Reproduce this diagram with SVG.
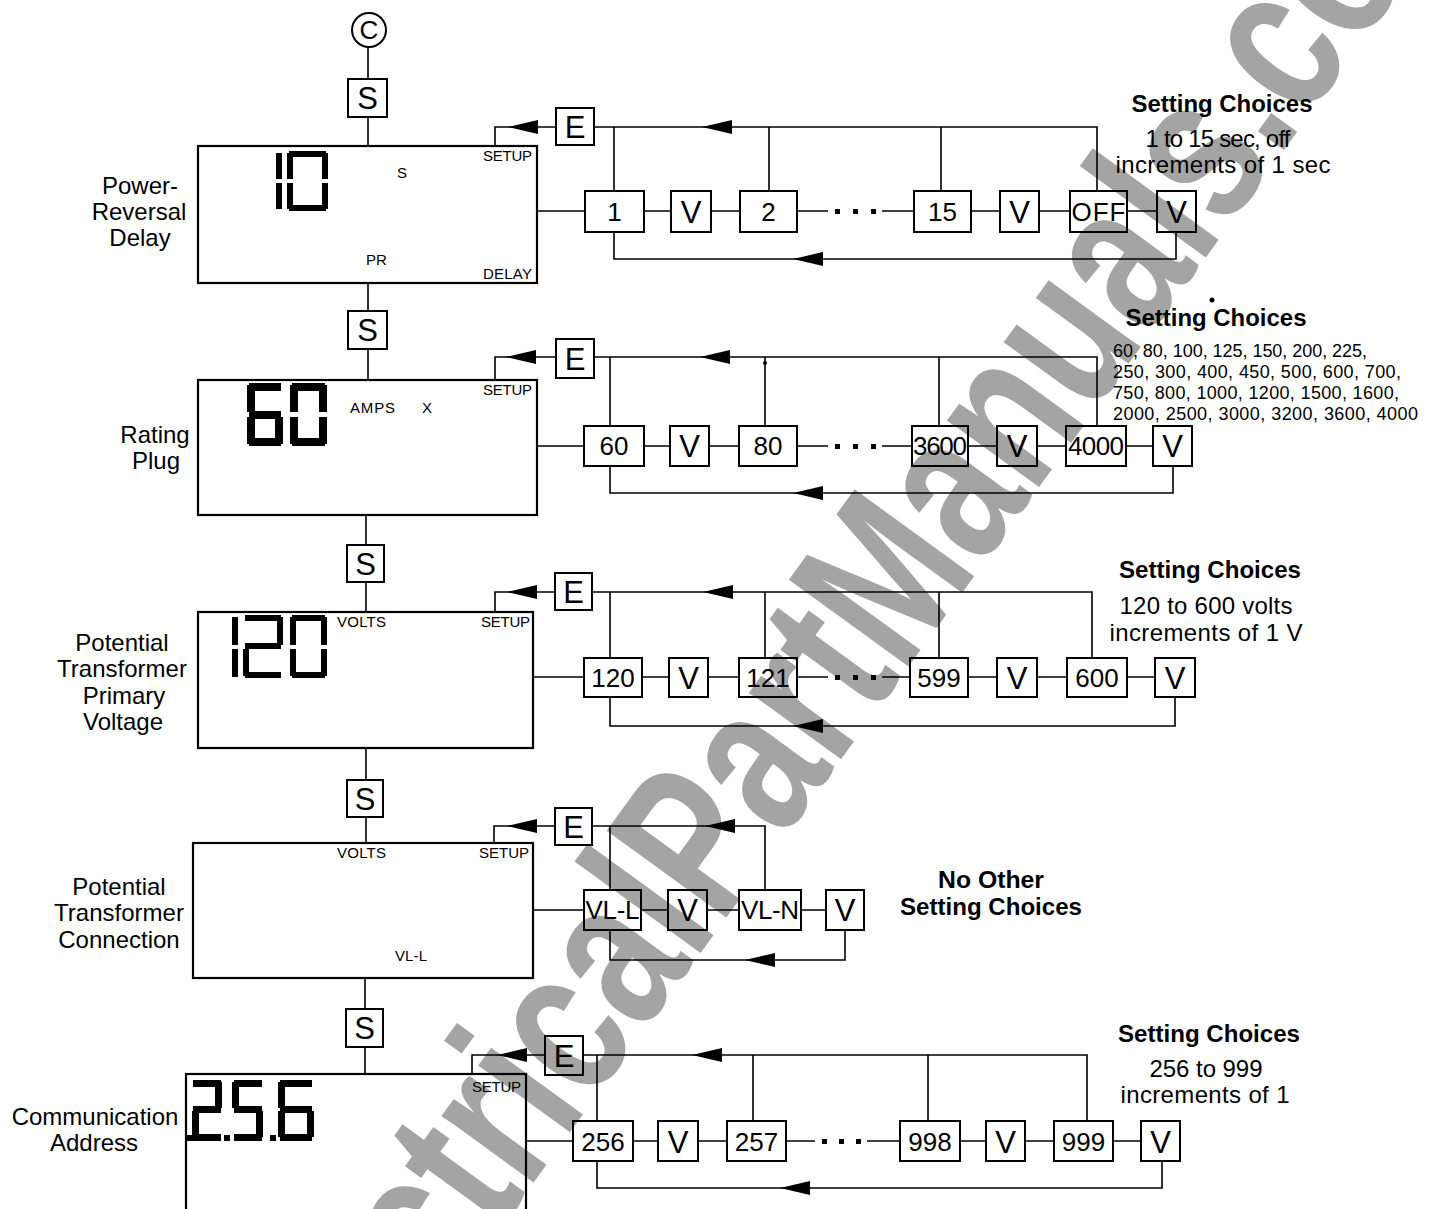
<svg xmlns="http://www.w3.org/2000/svg" xmlns:xlink="http://www.w3.org/1999/xlink" width="1436" height="1209" viewBox="0 0 1436 1209">
<style>
.ln{stroke:#000;stroke-width:1.6;fill:none}
.bx{stroke:#000;stroke-width:2;fill:none}
.dp{stroke:#000;stroke-width:2.2;fill:none}
.t{font-family:"Liberation Sans",Arial,sans-serif;fill:#000}
.bt{font-size:26px;text-anchor:middle}
.kt{font-size:31px;text-anchor:middle}
.lb{font-size:24px;text-anchor:middle}
.lc{font-size:15px}
.hd{font-size:23px;font-weight:bold;text-anchor:middle}
.sb{font-size:24px;text-anchor:middle}
.vl{font-size:18px}
.sg{fill:#000}
.wm{font-family:"Liberation Sans",Arial,sans-serif;font-weight:bold;font-size:215px;fill:#a4a4a4}
</style>
<defs>
<path id="ah" d="M0,0 L30,-7 L30,7 Z" fill="#000"/>
</defs>
<rect width="1436" height="1209" fill="#fff"/>
<g id="watermark">
<text class="wm" transform="translate(303,1500) rotate(-54)" textLength="2030" lengthAdjust="spacingAndGlyphs">ElectricalPartManuals.com</text>
</g>

<g id="connectors">
<path class="ln" d="M368,47 V79 M368,117 V146 M368,283 V311 M368,349 V380 M366,515 V545 M366,582 V612 M366,748 V780 M366,817 V843 M365,978 V1009 M365,1047 V1074"/>
<path class="ln" d="M556,127 H495 V146 M594,127 H1097 V191 M614,127 V191 M769,127 V191 M941,127 V191"/>
<path class="ln" d="M537,211 H585 M644,211 H671 M711,211 H740 M797,211 H828 M882,211 H914 M971,211 H1000 M1039,211 H1070 M1127,211 H1157"/>
<path class="ln" d="M614,232 V259 H1176 V232"/>
<use xlink:href="#ah" x="508" y="127"/><use xlink:href="#ah" x="702" y="127"/><use xlink:href="#ah" x="793" y="259"/>
<rect x="835" y="209" width="5" height="5"/><rect x="853" y="209" width="5" height="5"/><rect x="871" y="209" width="5" height="5"/>
<path class="ln" d="M556,357 H495 V380 M594,357 H1097 V426 M610,357 V426 M765,357 V426 M939,357 V426"/>
<circle cx="765" cy="363" r="2"/>
<path class="ln" d="M537,446 H584 M644,446 H670 M709,446 H739 M797,446 H828 M882,446 H912 M968,446 H997 M1037,446 H1066 M1126,446 H1153"/>
<path class="ln" d="M610,466 V493 H1173 V466"/>
<use xlink:href="#ah" x="506" y="357"/><use xlink:href="#ah" x="700" y="357"/><use xlink:href="#ah" x="793" y="493"/>
<rect x="835" y="444" width="5" height="5"/><rect x="853" y="444" width="5" height="5"/><rect x="871" y="444" width="5" height="5"/>
<path class="ln" d="M555,592 H495 V612 M592,592 H1092 V658 M610,592 V658 M765,592 V658 M939,592 V658"/>
<path class="ln" d="M533,677 H584 M642,677 H669 M708,677 H739 M797,677 H828 M882,677 H910 M968,677 H997 M1037,677 H1067 M1127,677 H1155"/>
<path class="ln" d="M610,697 V726 H1175 V697"/>
<use xlink:href="#ah" x="507" y="592"/><use xlink:href="#ah" x="703" y="592"/><use xlink:href="#ah" x="793" y="726"/>
<rect x="835" y="675" width="5" height="5"/><rect x="853" y="675" width="5" height="5"/><rect x="871" y="675" width="5" height="5"/>
<path class="ln" d="M555,826 H494 V843 M592,826 H765 V890 M610,826 V890"/>
<path class="ln" d="M533,910 H584 M641,910 H668 M707,910 H739 M801,910 H826"/>
<path class="ln" d="M610,930 V960 H845 V930"/>
<use xlink:href="#ah" x="507" y="826"/><use xlink:href="#ah" x="705" y="826"/><use xlink:href="#ah" x="745" y="960"/>
<path class="ln" d="M545,1055 H472 V1074 M583,1055 H1087 V1121 M597,1055 V1121 M753,1055 V1121 M928,1055 V1121"/>
<path class="ln" d="M526,1141 H573 M633,1141 H658 M698,1141 H727 M786,1141 H815 M867,1141 H900 M960,1141 H986 M1025,1141 H1054 M1113,1141 H1141"/>
<path class="ln" d="M597,1161 V1188 H1162 V1161"/>
<use xlink:href="#ah" x="497" y="1055"/><use xlink:href="#ah" x="692" y="1055"/><use xlink:href="#ah" x="780" y="1188"/>
<rect x="822" y="1139" width="5" height="5"/><rect x="839" y="1139" width="5" height="5"/><rect x="856" y="1139" width="5" height="5"/>
</g>

<g id="node-c"><circle class="bx" cx="369" cy="30" r="17"/><text class="t bt" x="369" y="39">C</text></g>
<g id="node-s1"><rect class="bx" x="348" y="79" width="39" height="38"/><text class="t kt" x="367.5" y="109">S</text></g>

<g id="display-1">
<rect class="dp" x="198" y="146" width="339" height="137"/>
<g class="sg"><title>10</title>
<rect x="276" y="153" width="6" height="26"/><rect x="276" y="183" width="6" height="26"/>
<rect x="289" y="151" width="37" height="6"/><rect x="287" y="153" width="6" height="26"/><rect x="322" y="153" width="6" height="26"/>
<rect x="287" y="183" width="6" height="26"/><rect x="322" y="183" width="6" height="26"/><rect x="289" y="205" width="37" height="6"/>
</g>
<text class="t lc" x="397" y="178">S</text>
<text class="t lc" x="366" y="265">PR</text>
<text class="t lc" x="483" y="161" textLength="49">SETUP</text>
<text class="t lc" x="483" y="279" textLength="49">DELAY</text>
</g>
<g id="label-1"><text class="t lb" x="140" y="194">Power-</text><text class="t lb" x="139" y="220">Reversal</text><text class="t lb" x="140" y="246">Delay</text></g>
<g id="e-1"><rect class="bx" x="556" y="108" width="38" height="37"/><text class="t kt" x="575" y="138">E</text></g>
<g id="opt-1-1"><rect class="bx" x="585" y="191" width="59" height="41"/><text class="t bt" x="614.5" y="221">1</text></g>
<g id="v-1-1"><rect class="bx" x="671" y="191" width="40" height="41"/><text class="t kt" x="691" y="223">V</text></g>
<g id="opt-1-2"><rect class="bx" x="740" y="191" width="57" height="41"/><text class="t bt" x="768.5" y="221">2</text></g>
<g id="opt-1-15"><rect class="bx" x="914" y="191" width="57" height="41"/><text class="t bt" x="942.5" y="221">15</text></g>
<g id="v-1-2"><rect class="bx" x="1000" y="191" width="39" height="41"/><text class="t kt" x="1019.5" y="223">V</text></g>
<g id="opt-1-off"><rect class="bx" x="1070" y="191" width="57" height="41"/><text class="t bt" x="1098.5" y="221" textLength="54">OFF</text></g>
<g id="v-1-3"><rect class="bx" x="1157" y="191" width="39" height="41"/><text class="t kt" x="1176.5" y="223">V</text></g>
<g id="choices-1">
<text class="t hd" x="1222" y="112" textLength="181" lengthAdjust="spacingAndGlyphs">Setting Choices</text>
<text class="t sb" x="1218" y="147" textLength="145">1 to 15 sec, off</text>
<text class="t sb" x="1223" y="173" textLength="215">increments of 1 sec</text>
</g>

<g id="node-s2"><rect class="bx" x="348" y="311" width="39" height="38"/><text class="t kt" x="367.5" y="341">S</text></g>
<g id="display-2">
<rect class="dp" x="198" y="380" width="339" height="135"/>
<g class="sg"><title>60</title>
<rect x="249" y="383" width="32" height="8"/><rect x="247" y="385" width="8" height="27"/>
<rect x="249" y="411" width="32" height="8"/><rect x="247" y="417" width="8" height="27"/>
<rect x="275" y="417" width="8" height="27"/><rect x="249" y="438" width="32" height="8"/>
<rect x="292" y="383" width="33" height="8"/><rect x="290" y="385" width="8" height="27"/><rect x="319" y="385" width="8" height="27"/>
<rect x="290" y="417" width="8" height="27"/><rect x="319" y="417" width="8" height="27"/><rect x="292" y="438" width="33" height="8"/>
</g>
<text class="t lc" x="350" y="413" textLength="45">AMPS</text>
<text class="t lc" x="422" y="413">X</text>
<text class="t lc" x="483" y="395" textLength="49">SETUP</text>
</g>
<g id="label-2"><text class="t lb" x="155" y="443">Rating</text><text class="t lb" x="156" y="469">Plug</text></g>
<g id="e-2"><rect class="bx" x="556" y="339" width="38" height="39"/><text class="t kt" x="575" y="370">E</text></g>
<g id="opt-2-60"><rect class="bx" x="584" y="426" width="60" height="40"/><text class="t bt" x="614" y="455">60</text></g>
<g id="v-2-1"><rect class="bx" x="670" y="426" width="39" height="40"/><text class="t kt" x="689.5" y="457">V</text></g>
<g id="opt-2-80"><rect class="bx" x="739" y="426" width="58" height="40"/><text class="t bt" x="768" y="455">80</text></g>
<g id="opt-2-3600"><rect class="bx" x="912" y="426" width="56" height="40"/><text class="t bt" x="940" y="455" textLength="54">3600</text></g>
<g id="v-2-2"><rect class="bx" x="997" y="426" width="40" height="40"/><text class="t kt" x="1017" y="457">V</text></g>
<g id="opt-2-4000"><rect class="bx" x="1066" y="426" width="60" height="40"/><text class="t bt" x="1096" y="455" textLength="56">4000</text></g>
<g id="v-2-3"><rect class="bx" x="1153" y="426" width="39" height="40"/><text class="t kt" x="1172.5" y="457">V</text></g>
<g id="choices-2">
<text class="t hd" x="1216" y="326" textLength="181" lengthAdjust="spacingAndGlyphs">Setting Choices</text>
<circle cx="1212" cy="300" r="2.5"/>
<text class="t vl" x="1113" y="357" textLength="254">60, 80, 100, 125, 150, 200, 225,</text>
<text class="t vl" x="1113" y="378" textLength="288">250, 300, 400, 450, 500, 600, 700,</text>
<text class="t vl" x="1113" y="399" textLength="286">750, 800, 1000, 1200, 1500, 1600,</text>
<text class="t vl" x="1113" y="420" textLength="305">2000, 2500, 3000, 3200, 3600, 4000</text>
</g>

<g id="node-s3"><rect class="bx" x="347" y="545" width="37" height="37"/><text class="t kt" x="365.5" y="575">S</text></g>
<g id="display-3">
<rect class="dp" x="198" y="612" width="335" height="136"/>
<g class="sg"><title>120</title>
<rect x="232" y="617" width="6" height="28"/><rect x="232" y="649" width="6" height="28"/>
<rect x="245" y="615" width="36" height="6"/><rect x="277" y="617" width="6" height="28"/>
<rect x="245" y="643" width="36" height="6"/><rect x="243" y="649" width="6" height="27"/><rect x="245" y="672" width="36" height="6"/>
<rect x="292" y="615" width="33" height="6"/><rect x="290" y="617" width="6" height="28"/><rect x="321" y="617" width="6" height="28"/>
<rect x="290" y="649" width="6" height="27"/><rect x="321" y="649" width="6" height="27"/><rect x="292" y="672" width="33" height="6"/>
</g>
<text class="t lc" x="337" y="627" textLength="49">VOLTS</text>
<text class="t lc" x="481" y="627" textLength="49">SETUP</text>
</g>
<g id="label-3"><text class="t lb" x="122" y="651">Potential</text><text class="t lb" x="122" y="677">Transformer</text><text class="t lb" x="124" y="704">Primary</text><text class="t lb" x="123" y="730">Voltage</text></g>
<g id="e-3"><rect class="bx" x="555" y="573" width="37" height="37"/><text class="t kt" x="573.5" y="603">E</text></g>
<g id="opt-3-120"><rect class="bx" x="584" y="658" width="58" height="39"/><text class="t bt" x="613" y="687">120</text></g>
<g id="v-3-1"><rect class="bx" x="669" y="658" width="39" height="39"/><text class="t kt" x="688.5" y="689">V</text></g>
<g id="opt-3-121"><rect class="bx" x="739" y="658" width="58" height="39"/><text class="t bt" x="768" y="687">121</text></g>
<g id="opt-3-599"><rect class="bx" x="910" y="658" width="58" height="39"/><text class="t bt" x="939" y="687">599</text></g>
<g id="v-3-2"><rect class="bx" x="997" y="658" width="40" height="39"/><text class="t kt" x="1017" y="689">V</text></g>
<g id="opt-3-600"><rect class="bx" x="1067" y="658" width="60" height="39"/><text class="t bt" x="1097" y="687">600</text></g>
<g id="v-3-3"><rect class="bx" x="1155" y="658" width="40" height="39"/><text class="t kt" x="1175" y="689">V</text></g>
<g id="choices-3">
<text class="t hd" x="1210" y="578" textLength="182" lengthAdjust="spacingAndGlyphs">Setting Choices</text>
<text class="t sb" x="1206" y="614" textLength="173">120 to 600 volts</text>
<text class="t sb" x="1206" y="641" textLength="193">increments of 1 V</text>
</g>

<g id="node-s4"><rect class="bx" x="347" y="780" width="36" height="37"/><text class="t kt" x="365" y="810">S</text></g>
<g id="display-4">
<rect class="dp" x="193" y="843" width="340" height="135"/>
<text class="t lc" x="337" y="858" textLength="49">VOLTS</text>
<text class="t lc" x="479" y="858" textLength="50">SETUP</text>
<text class="t lc" x="395" y="961" textLength="32">VL-L</text>
</g>
<g id="label-4"><text class="t lb" x="119" y="895">Potential</text><text class="t lb" x="119" y="921">Transformer</text><text class="t lb" x="119" y="948">Connection</text></g>
<g id="e-4"><rect class="bx" x="555" y="808" width="37" height="37"/><text class="t kt" x="573.5" y="838">E</text></g>
<g id="opt-4-vll"><rect class="bx" x="584" y="890" width="57" height="40"/><text class="t bt" x="612.5" y="919" textLength="54">VL-L</text></g>
<g id="v-4-1"><rect class="bx" x="668" y="890" width="39" height="40"/><text class="t kt" x="687.5" y="921">V</text></g>
<g id="opt-4-vln"><rect class="bx" x="739" y="890" width="62" height="40"/><text class="t bt" x="770" y="919" textLength="58">VL-N</text></g>
<g id="v-4-2"><rect class="bx" x="826" y="890" width="38" height="40"/><text class="t kt" x="845" y="921">V</text></g>
<g id="choices-4">
<text class="t hd" x="991" y="888" textLength="106" lengthAdjust="spacingAndGlyphs">No Other</text>
<text class="t hd" x="991" y="915" textLength="182" lengthAdjust="spacingAndGlyphs">Setting Choices</text>
</g>

<g id="node-s5"><rect class="bx" x="346" y="1009" width="37" height="38"/><text class="t kt" x="364.5" y="1039">S</text></g>
<g id="display-5">
<rect class="dp" x="186" y="1074" width="340" height="140"/>
<g class="sg"><title>.2.5.6</title>
<rect x="193" y="1080" width="28" height="7"/><rect x="215" y="1082" width="7" height="26"/>
<rect x="193" y="1106" width="28" height="7"/><rect x="192" y="1111" width="7" height="26"/><rect x="193" y="1134" width="28" height="7"/>
<rect x="187" y="1135" width="6" height="6"/>
<rect x="234" y="1080" width="28" height="7"/><rect x="232" y="1082" width="7" height="26"/>
<rect x="234" y="1106" width="28" height="7"/><rect x="256" y="1111" width="7" height="26"/><rect x="234" y="1134" width="28" height="7"/>
<rect x="224" y="1135" width="6" height="6"/>
<rect x="280" y="1080" width="32" height="7"/><rect x="278" y="1082" width="7" height="26"/>
<rect x="280" y="1106" width="32" height="7"/><rect x="278" y="1111" width="7" height="26"/><rect x="307" y="1111" width="7" height="26"/><rect x="280" y="1134" width="32" height="7"/>
<rect x="270" y="1135" width="6" height="6"/>
</g>
<text class="t lc" x="472" y="1092" textLength="49">SETUP</text>
</g>
<g id="label-5"><text class="t lb" x="95" y="1125">Communication</text><text class="t lb" x="94" y="1151">Address</text></g>
<g id="e-5"><rect class="bx" x="545" y="1036" width="38" height="39"/><text class="t kt" x="564" y="1067">E</text></g>
<g id="opt-5-256"><rect class="bx" x="573" y="1121" width="60" height="40"/><text class="t bt" x="603" y="1151">256</text></g>
<g id="v-5-1"><rect class="bx" x="658" y="1121" width="40" height="40"/><text class="t kt" x="678" y="1153">V</text></g>
<g id="opt-5-257"><rect class="bx" x="727" y="1121" width="59" height="40"/><text class="t bt" x="756.5" y="1151">257</text></g>
<g id="opt-5-998"><rect class="bx" x="900" y="1121" width="60" height="40"/><text class="t bt" x="930" y="1151">998</text></g>
<g id="v-5-2"><rect class="bx" x="986" y="1121" width="39" height="40"/><text class="t kt" x="1005.5" y="1153">V</text></g>
<g id="opt-5-999"><rect class="bx" x="1054" y="1121" width="59" height="40"/><text class="t bt" x="1083.5" y="1151">999</text></g>
<g id="v-5-3"><rect class="bx" x="1141" y="1121" width="39" height="40"/><text class="t kt" x="1160.5" y="1153">V</text></g>
<g id="choices-5">
<text class="t hd" x="1209" y="1042" textLength="182" lengthAdjust="spacingAndGlyphs">Setting Choices</text>
<text class="t sb" x="1206" y="1077" textLength="113">256 to 999</text>
<text class="t sb" x="1205" y="1103" textLength="169">increments of 1</text>
</g>
</svg>
